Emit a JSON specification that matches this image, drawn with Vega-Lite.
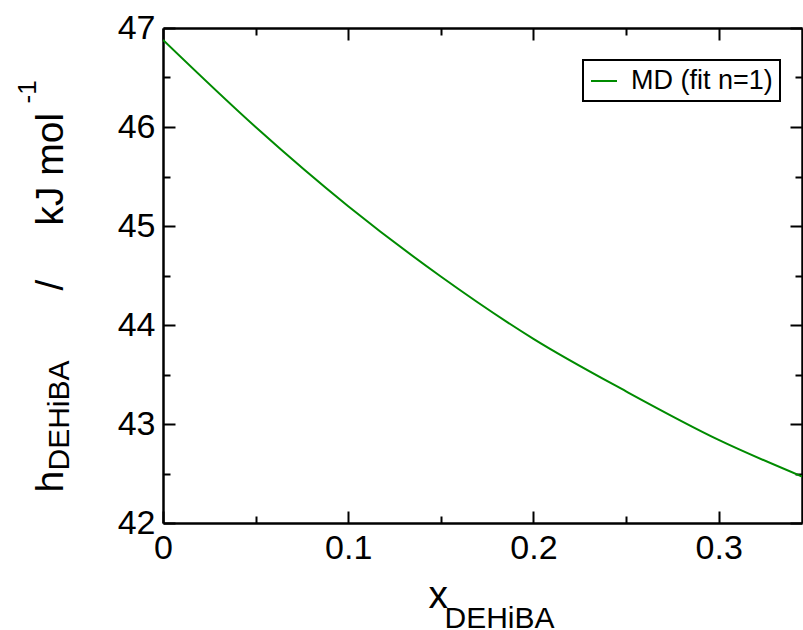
{
  "$schema": "https://vega.github.io/schema/vega-lite/v6.json",
  "width": 639,
  "height": 495,
  "autosize": {"type": "none"},
  "padding": {"left": 163, "top": 28, "right": 1, "bottom": 107},
  "background": "white",
  "config": {
    "view": {"stroke": null},
    "font": "Liberation Sans",
    "axis": {
      "grid": false,
      "domainColor": "black",
      "domainWidth": 2.5,
      "tickColor": "black",
      "tickWidth": 2,
      "labelColor": "black",
      "titleColor": "black",
      "titleFontWeight": "normal",
      "labelFlush": false,
      "labelOverlap": false
    }
  },
  "data": {
    "values": [
      {"x": 0.0, "h": 46.88},
      {"x": 0.05, "h": 46.0},
      {"x": 0.1, "h": 45.2},
      {"x": 0.15, "h": 44.49},
      {"x": 0.2, "h": 43.86},
      {"x": 0.25, "h": 43.33},
      {"x": 0.3, "h": 42.84},
      {"x": 0.345, "h": 42.47}
    ]
  },
  "resolve": {
    "scale": {"x": "shared", "y": "shared"},
    "axis": {"x": "independent", "y": "independent"}
  },
  "layer": [
    {
      "mark": {"type": "line", "strokeWidth": 2, "interpolate": "monotone", "clip": true},
      "encoding": {
        "x": {
          "field": "x", "type": "quantitative",
          "scale": {"domain": [0, 0.345], "nice": false, "zero": false},
          "axis": {
            "orient": "bottom", "values": [0, 0.1, 0.2, 0.3], "tickSize": -12, "format": "~g",
            "labelFontSize": 34, "labelPadding": 20, "labelBaseline": "top",
            "title": "x", "titleFontSize": 39, "titleX": 265, "titleY": 84,
            "titleAlign": "left", "titleBaseline": "alphabetic", "titleAnchor": null
          }
        },
        "y": {
          "field": "h", "type": "quantitative",
          "scale": {"domain": [42, 47], "nice": false, "zero": false},
          "axis": {
            "orient": "left", "values": [42, 43, 44, 45, 46, 47], "tickSize": -12,
            "labelFontSize": 34, "labelPadding": 20,
            "title": "h", "titleFontSize": 39, "titleX": -101, "titleY": 464,
            "titleAngle": -90, "titleAlign": "left", "titleBaseline": "alphabetic", "titleAnchor": null
          }
        },
        "color": {
          "datum": "MD (fit n=1)", "type": "nominal",
          "scale": {"range": ["#008b00"]},
          "legend": {
            "title": null, "orient": "none", "legendX": 420, "legendY": 32,
            "strokeColor": "black", "padding": 7, "fillColor": "white",
            "symbolType": "stroke", "symbolSize": 676, "symbolStrokeWidth": 2,
            "labelFontSize": 27, "labelColor": "black", "labelOffset": 13, "labelLimit": 300,
            "encode": {"legend": {"update": {"strokeWidth": {"value": 2}}}}
          }
        }
      }
    },
    {
      "mark": {"type": "line", "opacity": 0},
      "encoding": {
        "x": {
          "field": "x", "type": "quantitative",
          "axis": {
            "orient": "bottom", "values": [0.05, 0.15, 0.25], "tickSize": -7,
            "labels": false, "domain": false,
            "title": "DEHiBA", "titleFontSize": 30, "titleX": 281, "titleY": 104,
            "titleAlign": "left", "titleBaseline": "alphabetic", "titleAnchor": null
          }
        },
        "y": {
          "field": "h", "type": "quantitative",
          "axis": {
            "orient": "left", "values": [42.5, 43.5, 44.5, 45.5, 46.5], "tickSize": -7,
            "labels": false, "domain": false,
            "title": "DEHiBA", "titleFontSize": 30, "titleX": -95, "titleY": 442,
            "titleAngle": -90, "titleAlign": "left", "titleBaseline": "alphabetic", "titleAnchor": null
          }
        }
      }
    },
    {
      "mark": {"type": "line", "opacity": 0},
      "encoding": {
        "x": {
          "field": "x", "type": "quantitative",
          "axis": {"orient": "top", "values": [0, 0.1, 0.2, 0.3], "tickSize": -12, "labels": false, "title": null}
        },
        "y": {
          "field": "h", "type": "quantitative",
          "axis": {"orient": "right", "values": [42, 43, 44, 45, 46, 47], "tickSize": -12, "labels": false, "title": null}
        }
      }
    },
    {
      "mark": {"type": "line", "opacity": 0},
      "encoding": {
        "x": {
          "field": "x", "type": "quantitative",
          "axis": {"orient": "top", "values": [0.05, 0.15, 0.25], "tickSize": -7, "labels": false, "domain": false, "title": null}
        },
        "y": {
          "field": "h", "type": "quantitative",
          "axis": {"orient": "right", "values": [42.5, 43.5, 44.5, 45.5, 46.5], "tickSize": -7, "labels": false, "domain": false, "title": null}
        }
      }
    },
    {
      "mark": {"type": "line", "opacity": 0},
      "encoding": {
        "x": {"field": "x", "type": "quantitative", "axis": null},
        "y": {
          "field": "h", "type": "quantitative",
          "axis": {
            "orient": "left", "values": [], "ticks": false, "labels": false, "domain": false,
            "title": "/\u00a0\u00a0\u00a0\u00a0\u00a0kJ mol", "titleFontSize": 39, "titleX": -101, "titleY": 262,
            "titleAngle": -90, "titleAlign": "left", "titleBaseline": "alphabetic", "titleAnchor": null
          }
        }
      }
    },
    {
      "mark": {"type": "line", "opacity": 0},
      "encoding": {
        "x": {"field": "x", "type": "quantitative", "axis": null},
        "y": {
          "field": "h", "type": "quantitative",
          "axis": {
            "orient": "left", "values": [], "ticks": false, "labels": false, "domain": false,
            "title": "-1", "titleFontSize": 26, "titleX": -128, "titleY": 75,
            "titleAngle": -90, "titleAlign": "left", "titleBaseline": "alphabetic", "titleAnchor": null
          }
        }
      }
    }
  ]
}
